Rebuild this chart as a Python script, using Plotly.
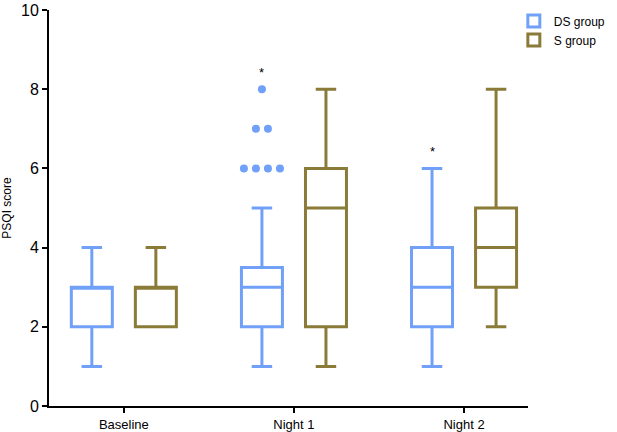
import plotly.graph_objects as go

# ---- data ----
categories = ["Baseline", "Night 1", "Night 2"]

ds_min = [1, 1, 1]
ds_q1 = [2, 2, 2]
ds_median = [3, 3, 3]
ds_q3 = [3, 3.5, 4]
ds_max = [4, 5, 6]
ds_outliers_night1 = [6, 6, 6, 6, 7, 7, 8]

s_min = [2, 1, 2]
s_q1 = [2, 2, 3]
s_median = [3, 5, 4]
s_q3 = [3, 6, 5]
s_max = [4, 8, 8]

star_labels = ["", "*", "*"]
y_ticks = [0, 2, 4, 6, 8, 10]

# ---- styles ----
DS_COLOR = "#70A0F8"
S_COLOR = "#8A7B38"
FONT = "Liberation Sans, Arial, sans-serif"
BOXGAP = 0.247
BOXGROUPGAP = 0.36
XRANGE = [-0.44, 2.376]

fig = go.Figure()

fig.add_trace(go.Box(
    x=categories, q1=ds_q1, median=ds_median, q3=ds_q3,
    lowerfence=ds_min, upperfence=ds_max,
    name="DS group", boxpoints=False,
    line=dict(color=DS_COLOR, width=3), fillcolor="white",
    whiskerwidth=0.5,
))
fig.add_trace(go.Box(
    x=categories, q1=s_q1, median=s_median, q3=s_q3,
    lowerfence=s_min, upperfence=s_max,
    name="S group", boxpoints=False,
    line=dict(color=S_COLOR, width=3), fillcolor="white",
    whiskerwidth=0.5,
))

# outliers for DS group at Night 1 (swarm layout around DS box centre)
ds_offset = -(1 - BOXGAP) / 4
spacing = 0.0706
cat_idx = categories.index("Night 1")
counts = {}
for v in ds_outliers_night1:
    counts[v] = counts.get(v, 0) + 1
ox, oy = [], []
for v, n in counts.items():
    for k in range(n):
        ox.append(cat_idx + ds_offset + (k - (n - 1) / 2) * spacing)
        oy.append(v)
fig.add_trace(go.Scatter(
    x=ox, y=oy, xaxis="x2", mode="markers",
    marker=dict(color=DS_COLOR, size=8), showlegend=False, hoverinfo="y",
))

# significance stars
for i, lab in enumerate(star_labels):
    if lab:
        top = max([ds_max[i]] + ([max(ds_outliers_night1)] if i == cat_idx else []))
        fig.add_annotation(
            x=i + ds_offset, y=top + 0.42, xref="x2", yref="y",
            text=lab, showarrow=False, font=dict(size=13, color="black", family=FONT),
        )

fig.update_layout(
    width=617, height=432,
    margin=dict(l=49, r=89, t=10, b=26, autoexpand=False),
    paper_bgcolor="white", plot_bgcolor="white",
    boxmode="group", boxgap=BOXGAP, boxgroupgap=BOXGROUPGAP,
    font=dict(family=FONT, color="black"),
    showlegend=True,
    legend=dict(xref="container", yref="container", x=0.99, y=0.985,
                xanchor="right", yanchor="top",
                font=dict(size=12), bgcolor="rgba(0,0,0,0)",
                tracegroupgap=0, itemwidth=30),
    xaxis=dict(
        type="category", range=XRANGE, automargin=False,
        showline=True, linecolor="black", linewidth=2,
        ticks="outside", ticklen=5, tickwidth=2, tickcolor="black",
        tickfont=dict(size=13), showgrid=False, zeroline=False,
    ),
    xaxis2=dict(overlaying="x", range=XRANGE, visible=False),
    yaxis=dict(
        range=[0, 10], tickvals=y_ticks, automargin=False,
        showline=True, linecolor="black", linewidth=2,
        ticks="outside", ticklen=5, tickwidth=2, tickcolor="black",
        tickfont=dict(size=16), showgrid=False, zeroline=False,
        title=dict(text="PSQI score", font=dict(size=12)),
    ),
)

fig.write_html("out.html")
